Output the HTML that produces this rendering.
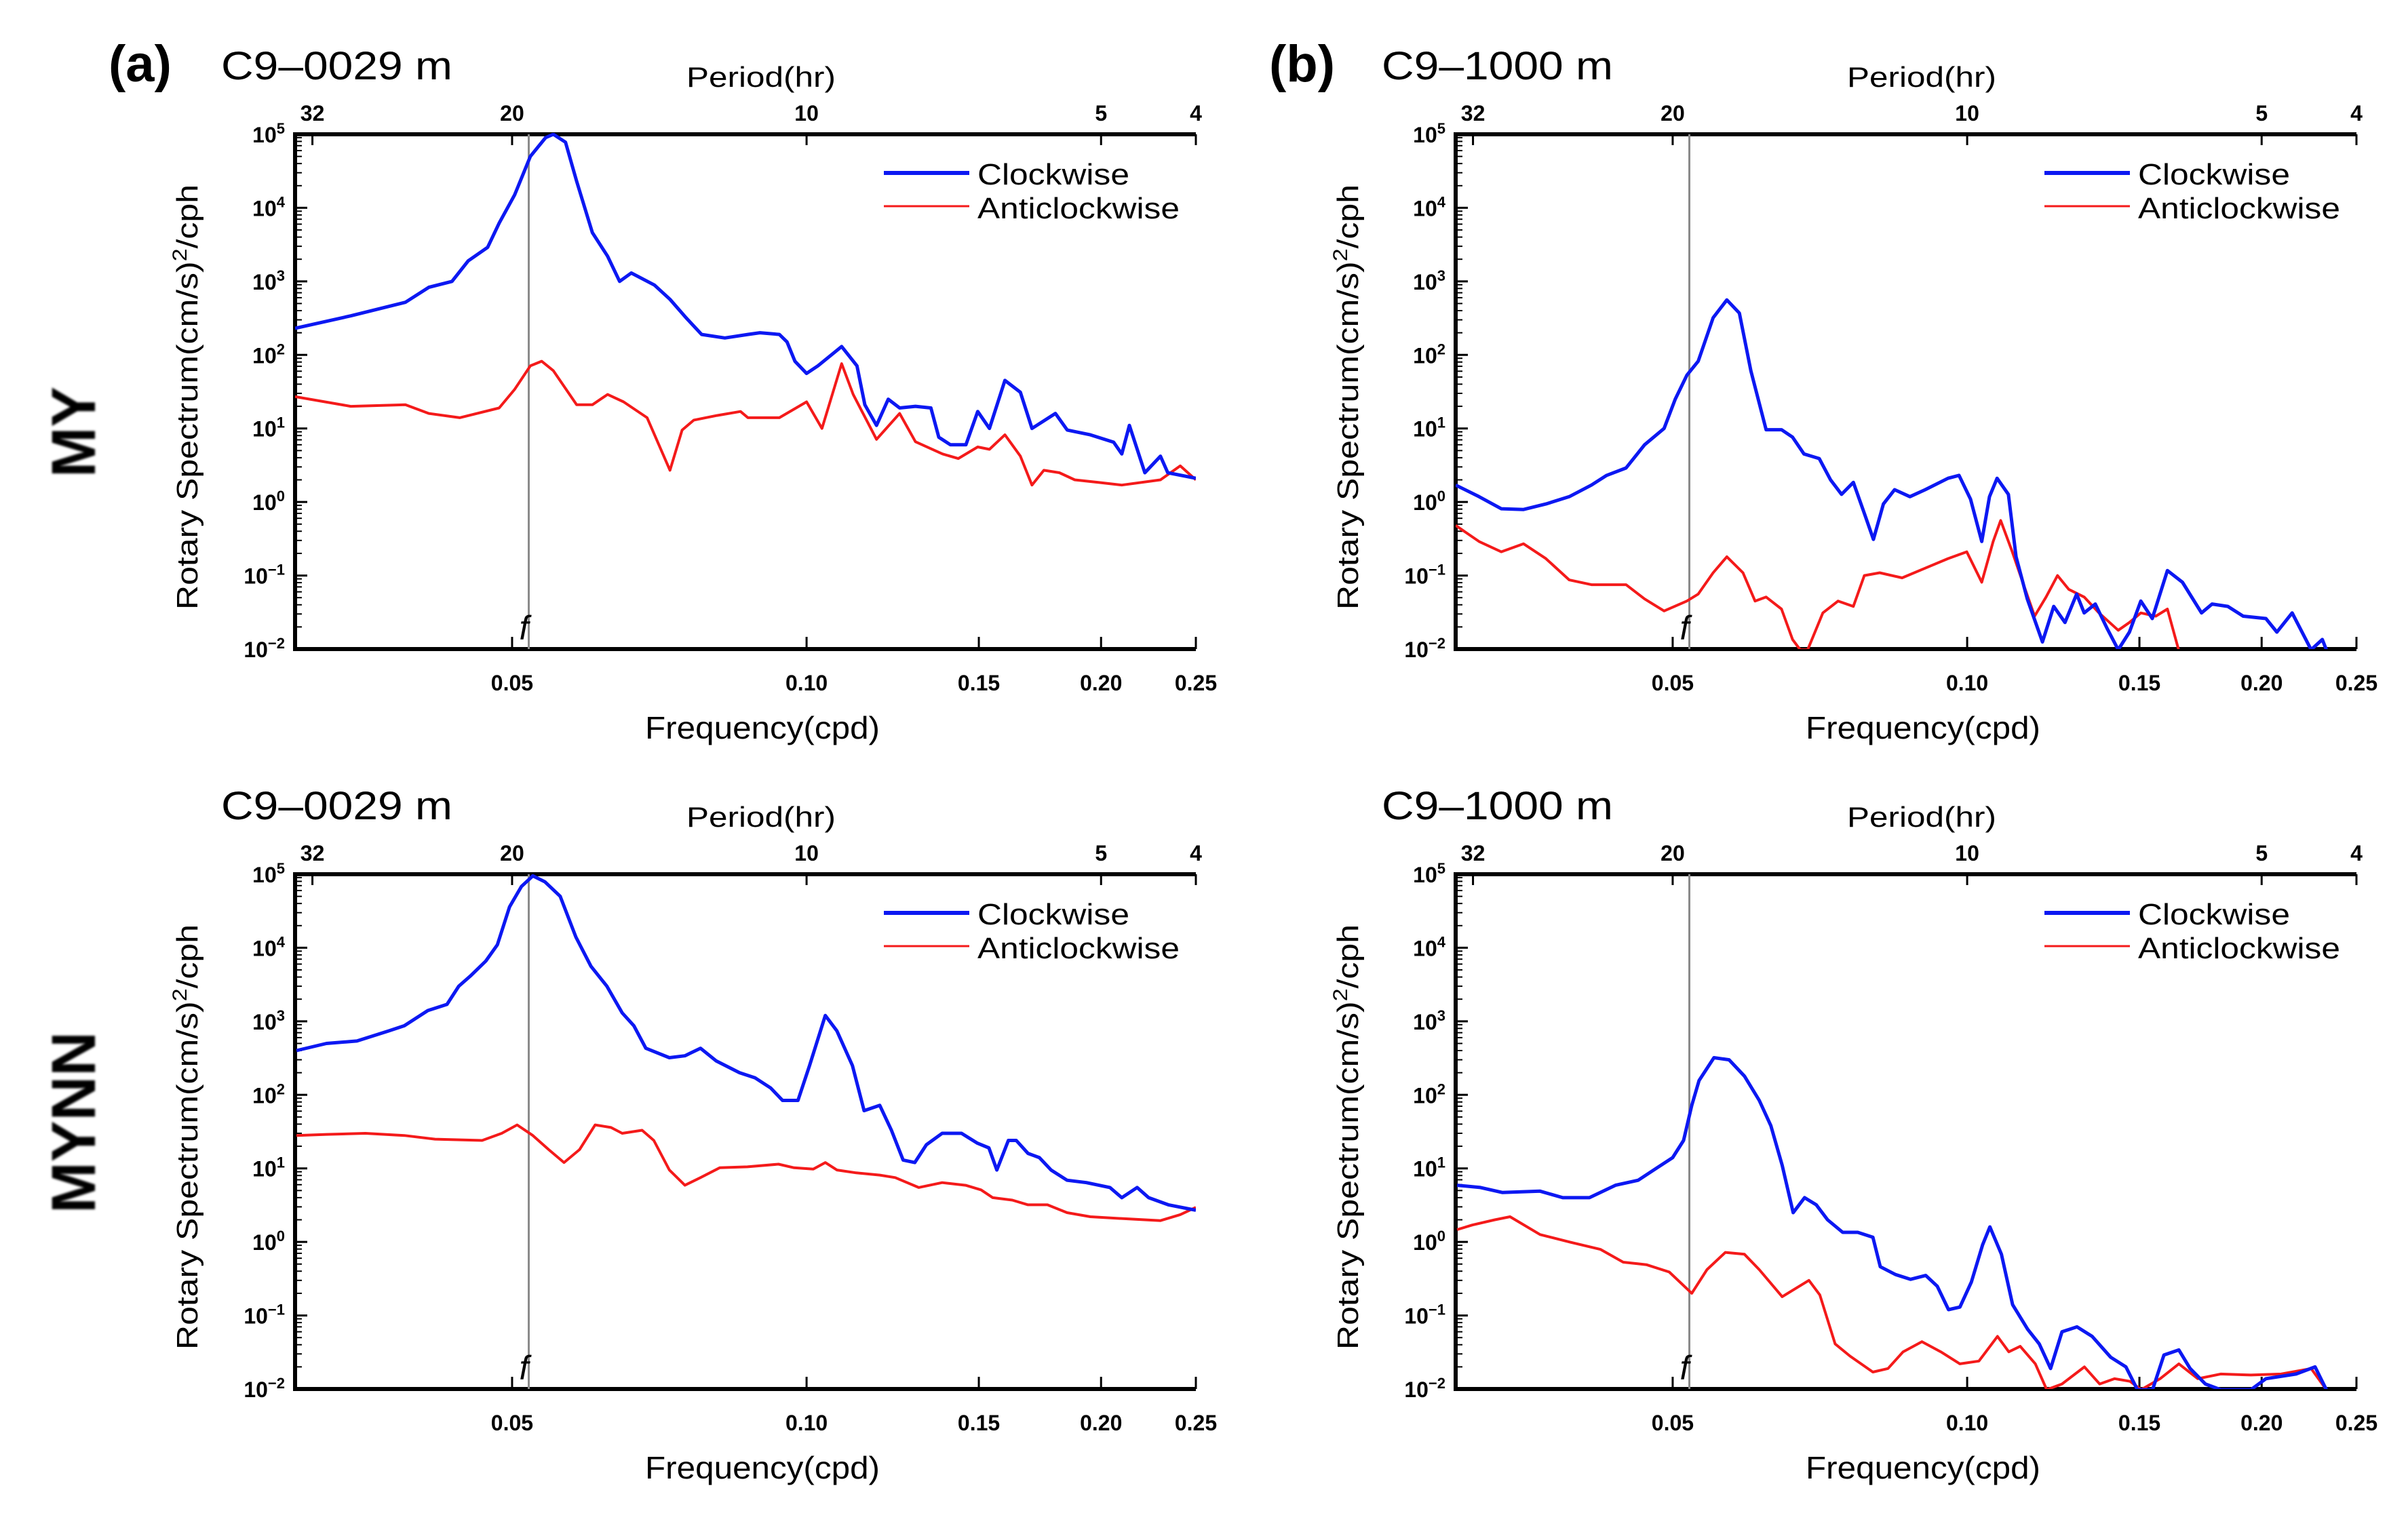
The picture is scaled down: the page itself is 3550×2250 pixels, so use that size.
<!DOCTYPE html>
<html>
<head>
<meta charset="utf-8">
<style>
html,body{margin:0;padding:0;background:#fff;}
svg{display:block;}
text{font-family:"Liberation Sans",sans-serif;fill:#000;}
</style>
</head>
<body>
<svg id="fig" width="3550" height="2250" viewBox="0 0 3550 2250" xmlns="http://www.w3.org/2000/svg">
  <defs>
    <filter id="soft" x="-20%" y="-20%" width="140%" height="140%"><feGaussianBlur stdDeviation="1.6"/></filter>
  </defs>
  <text transform="translate(140,637) rotate(-90)" text-anchor="middle" font-size="92" font-weight="bold" textLength="134" lengthAdjust="spacingAndGlyphs" filter="url(#soft)">MY</text>
  <text transform="translate(140,1655) rotate(-90)" text-anchor="middle" font-size="92" font-weight="bold" textLength="268" lengthAdjust="spacingAndGlyphs" filter="url(#soft)">MYNN</text>
</svg>
<script>
// ---- data (frequency in cph, spectrum in (cm/s)^2/cph) ----
const periodTicks = [32, 20, 10, 5, 4];
const freqTicks = [0.05, 0.10, 0.15, 0.20, 0.25];
const freqTickLabels = ["0.05", "0.10", "0.15", "0.20", "0.25"];
const decadeExps = [5, 4, 3, 2, 1, 0, -1, -2];
const inertialFreq = 0.052;
const panelTitles = ["C9\u20130029 m", "C9\u20131000 m", "C9\u20130029 m", "C9\u20131000 m"];
const panelLetters = ["(a)", "(b)", "", ""];

const aBlueF = [.0300,.0342,.0389,.0411,.0434,.0451,.0472,.0485,.0503,.0522,.0541,.0551,.0567,.0582,.0604,.0626,.0644,.0662,.0699,.0725,.0753,.0781,.0825,.0871,.0896,.0938,.0955,.0973,.1000,.1027,.1086,.1126,.1147,.1179,.1212,.1245,.1292,.134,.1365,.1403,.1455,.1496,.1538,.1595,.1654,.170,.1796,.1847,.195,.206,.210,.2138,.2217,.230,.234,.25];
const aBlueV = [230,340,520,830,1000,1900,2900,6200,15000,50000,90000,100000,78000,23000,4600,2200,1000,1300,890,570,320,190,170,190,200,190,150,82,56,71,130,71,21,11,25,19,20,19,7.6,6.0,6.0,17,10,45,31,10,16,9.5,8.2,6.5,4.5,11,2.5,4.2,2.5,2.1];
const aRedF = [.030,.0342,.0389,.0411,.0442,.0485,.0503,.0522,.0536,.0551,.0582,.0604,.0626,.065,.0687,.0725,.0746,.0767,.081,.0856,.0871,.0938,.1,.1037,.1086,.1116,.1179,.1245,.1292,.1377,.1429,.1496,.1538,.1595,.1654,.170,.1748,.1813,.188,.1987,.210,.230,.241,.25];
const aRedV = [27,20,21,16,14,19,34,71,82,61,21,21,29,23,14,2.7,9.5,13,15,17,14,14,23,10,76,29,7.1,16,6.6,4.5,3.9,5.6,5.2,8.2,4.2,1.7,2.7,2.5,2.0,1.85,1.7,2.0,3.1,2.0];

const bBlueF = [.0300,.0317,.0334,.0352,.0371,.0392,.0413,.0428,.0448,.0468,.0490,.0503,.0517,.0531,.0550,.0568,.0585,.0601,.0623,.0646,.0663,.0681,.0706,.0725,.0744,.0765,.0785,.0802,.0821,.0843,.0874,.0906,.0956,.0981,.1008,.1035,.1054,.1073,.1102,.1122,.1152,.1194,.1226,.1259,.1294,.1317,.1352,.1389,.1427,.1465,.1505,.1546,.1602,.166,.1736,.178,.1847,.1915,.202,.2073,.2149,.2247,.2307,.2329];
const bBlueV = [1.7,1.18,.81,.79,.94,1.18,1.7,2.3,2.9,6,10,25,53,82,320,560,370,61,9.6,9.6,7.6,4.5,3.9,2.0,1.27,1.85,.7,.31,.94,1.47,1.18,1.47,2.1,2.3,1.09,.29,1.18,2.1,1.27,.18,.048,.0125,.038,.023,.056,.031,.041,.0195,.0098,.017,.045,.026,.117,.081,.031,.041,.038,.028,.026,.017,.031,.0098,.0135,.0098];
const bRedF = [.0300,.0317,.0334,.0352,.0371,.0392,.0413,.0448,.0468,.0490,.0517,.0531,.0550,.0568,.059,.0607,.0623,.0646,.0663,.0675,.0687,.0712,.0738,.0765,.0785,.0814,.0858,.0906,.0956,.0999,.1035,.1063,.1082,.1112,.1142,.1172,.1204,.1237,.127,.1317,.1364,.1427,.1465,.1505,.1559,.1602,.1645];
const bRedV = [.48,.29,.21,.27,.17,.087,.075,.075,.048,.033,.045,.056,.109,.18,.109,.045,.051,.035,.0135,.0098,.0098,.031,.045,.038,.10,.109,.093,.126,.17,.21,.081,.29,.56,.21,.075,.028,.051,.10,.065,.051,.031,.018,.023,.031,.028,.035,.0098];

const cBlueF = [.0301,.0323,.0347,.0374,.0388,.0410,.0429,.0441,.0453,.0470,.0483,.0497,.0511,.0525,.0540,.0560,.0581,.0602,.0625,.0648,.0666,.0685,.0724,.0751,.0779,.0808,.0854,.0886,.0919,.0945,.0980,.1007,.1045,.1074,.1114,.1145,.1188,.1221,.1255,.129,.1326,.1376,.144,.1495,.1536,.1565,.1608,.1638,.1684,.173,.1778,.1846,.1932,.2042,.210,.2177,.2237,.2343,.25];
const cBlueV = [400,500,540,740,870,1400,1700,3000,4100,6600,11000,36000,68000,95000,79000,50000,14000,5600,3000,1300,870,430,320,340,430,290,200,170,124,84,84,250,1200,740,250,61,72,33,13,12,21,30,30,22,19,9.5,24,24,16,14,9.5,6.9,6.4,5.5,4.0,5.5,4.0,3.2,2.7];
const cRedF = [.0301,.0323,.0354,.0388,.0417,.0466,.0488,.0506,.0525,.0545,.0565,.0586,.0608,.0631,.0648,.0679,.0698,.0724,.0751,.0779,.0815,.087,.0936,.0971,.1016,.1045,.1074,.1124,.1188,.1232,.1302,.1376,.1454,.1508,.155,.1623,.1684,.1763,.1846,.195,.2137,.230,.241,.25];
const cRedV = [28,29,30,28,25,24,30,39,28,18,12,18,39,36,30,33,24,9.5,5.9,7.5,10.2,10.5,11.4,10.2,9.8,12,9.5,8.7,8.1,7.5,5.5,6.4,5.9,5.1,4.0,3.7,3.2,3.2,2.5,2.2,2.05,1.95,2.35,2.95];

const dBlueF = [.0301,.0318,.0335,.0366,.0386,.0411,.0437,.0461,.0482,.0500,.0513,.0523,.0532,.0551,.0571,.0592,.0613,.063,.0647,.0664,.0682,.0701,.072,.0746,.0773,.0801,.0815,.0845,.0875,.0907,.0932,.0957,.0983,.101,.1037,.1055,.1084,.1113,.1153,.1185,.1217,.125,.1295,.1342,.1402,.1453,.1493,.1547,.1589,.1646,.169,.1752,.1816,.195,.202,.2169,.2268,.2329];
const dBlueV = [5.9,5.5,4.7,4.9,4.0,4.0,5.9,6.9,10.2,14,24,72,156,320,300,180,84,38,11,2.5,4.0,3.2,2.0,1.35,1.35,1.16,.46,.36,.31,.35,.25,.12,.13,.285,.91,1.6,.68,.14,.065,.041,.019,.060,.070,.052,.027,.020,.0098,.0098,.029,.034,.019,.0117,.0098,.0098,.0138,.016,.020,.0098];
const dRedF = [.0301,.0312,.0329,.0341,.0366,.0393,.0422,.0445,.047,.0496,.0523,.0542,.0566,.0592,.0613,.0647,.0689,.0707,.0733,.0759,.0801,.083,.086,.0899,.094,.0983,.1028,.1074,.1103,.1133,.1174,.1206,.125,.1318,.1366,.1415,.1467,.1506,.1575,.1646,.1721,.1816,.195,.2094,.2247,.2329];
const dRedV = [1.47,1.7,2.0,2.2,1.26,.99,.79,.53,.49,.39,.2,.42,.72,.68,.42,.18,.30,.19,.041,.028,.017,.019,.032,.044,.032,.022,.024,.052,.032,.038,.022,.0098,.0117,.020,.0117,.0138,.0127,.0098,.0138,.022,.0138,.016,.0155,.016,.019,.0098];

// ---- layout ----
const NS = "http://www.w3.org/2000/svg";
const svg = document.getElementById("fig");
const PW = 1328, PH = 759;
const FMIN = 0.03, FMAX = 0.25, EMAX = 5, EMIN = -2;
const panels = [
  {ox: 435, oy: 198, blueF: aBlueF, blueV: aBlueV, redF: aRedF, redV: aRedV},
  {ox: 2146, oy: 198, blueF: bBlueF, blueV: bBlueV, redF: bRedF, redV: bRedV},
  {ox: 435, oy: 1289, blueF: cBlueF, blueV: cBlueV, redF: cRedF, redV: cRedV},
  {ox: 2146, oy: 1289, blueF: dBlueF, blueV: dBlueV, redF: dRedF, redV: dRedV}
];
function xScale(f) { return PW * Math.log(f / FMIN) / Math.log(FMAX / FMIN); }
function yScale(v) { return PH * (EMAX - Math.log10(v)) / (EMAX - EMIN); }
function el(tag, attrs, parent) {
  const e = document.createElementNS(NS, tag);
  for (const k in attrs) e.setAttribute(k, attrs[k]);
  parent.appendChild(e);
  return e;
}

panels.forEach((p, i) => {
  const g = el("g", {transform: "translate(" + p.ox + "," + p.oy + ")"}, svg);
  
  

  const cp = el("clipPath", {id: "clip" + i}, g);
  el("rect", {x: 0, y: -2, width: PW, height: PH + 2}, cp);

  if (panelLetters[i]) {
    const lt = el("text", {x: -275, y: -78, "font-size": 76, "font-weight": "bold"}, g);
    lt.textContent = panelLetters[i];
    
    
  }
  const tt = el("text", {x: -109, y: -81, "font-size": 58, textLength: 341, lengthAdjust: "spacingAndGlyphs"}, g);
  tt.textContent = panelTitles[i];
  
  

  const pt = el("text", {x: 687, y: -70, "font-size": 42, "text-anchor": "middle", textLength: 220, lengthAdjust: "spacingAndGlyphs"}, g);
  pt.textContent = "Period(hr)";
  
  

  const topAxis = el("line", {x1: 0, y1: 0, x2: PW, y2: 0, stroke: "#000", "stroke-width": 6}, g);
  
  
  periodTicks.forEach(P => {
    const x = xScale(1 / P);
    el("line", {x1: x, y1: 0, x2: x, y2: 16, stroke: "#000", "stroke-width": 3}, g);
    const t = el("text", {x: x, y: -20, "font-size": 32, "font-weight": "bold", "text-anchor": "middle"}, g);
    t.textContent = String(P);
    
    
  });

  const botAxis = el("line", {x1: 0, y1: PH, x2: PW, y2: PH, stroke: "#000", "stroke-width": 6}, g);
  
  
  freqTicks.forEach((f, k) => {
    const x = xScale(f);
    el("line", {x1: x, y1: PH, x2: x, y2: PH - 18, stroke: "#000", "stroke-width": 3}, g);
    const t = el("text", {x: x, y: PH + 61, "font-size": 32, "font-weight": "bold", "text-anchor": "middle"}, g);
    t.textContent = freqTickLabels[k];
    
    
  });
  const xt = el("text", {x: 689, y: PH + 132, "font-size": 46, "text-anchor": "middle", textLength: 346, lengthAdjust: "spacingAndGlyphs"}, g);
  xt.textContent = "Frequency(cpd)";
  
  

  const leftAxis = el("line", {x1: 0, y1: -3, x2: 0, y2: PH + 3, stroke: "#000", "stroke-width": 6}, g);
  
  
  decadeExps.forEach(e => {
    const y = yScale(Math.pow(10, e));
    el("line", {x1: 0, y1: y, x2: 18, y2: y, stroke: "#000", "stroke-width": 3}, g);
    if (e > EMIN) {
      for (let m = 2; m <= 9; m++) {
        const ym = yScale(m * Math.pow(10, e - 1));
        el("line", {x1: 0, y1: ym, x2: 10, y2: ym, stroke: "#000", "stroke-width": 2}, g);
      }
    }
    const t = el("text", {x: -15, y: y + 12, "font-size": 32, "font-weight": "bold", "text-anchor": "end"}, g);
    t.textContent = "10";
    const s = el("tspan", {dy: -13, "font-size": 22}, t);
    s.textContent = e < 0 ? "\u2212" + (-e) : String(e);
    
    
  });
  const yt = el("text", {transform: "translate(-144," + (PH / 2 + 8) + ") rotate(-90)", "font-size": 44, "text-anchor": "middle", textLength: 627, lengthAdjust: "spacingAndGlyphs"}, g);
  yt.textContent = "Rotary Spectrum(cm/s)";
  const sup = el("tspan", {dy: -16, "font-size": 30}, yt);
  sup.textContent = "2";
  const rest = el("tspan", {dy: 16}, yt);
  rest.textContent = "/cph";
  
  

  const fx = xScale(inertialFreq);
  const fl = el("line", {x1: fx, y1: 0, x2: fx, y2: PH, stroke: "#8a8a8a", "stroke-width": 3}, g);
  
  
  const ft = el("text", {x: fx - 14, y: PH - 14, "font-size": 50, "font-style": "italic", "font-family": "Liberation Serif, serif"}, g);
  ft.textContent = "f";
  
  

  function series(F, V, color, w, name) {
    const n = Math.min(F.length, V.length);
    const pts = [];
    for (let k = 0; k < n; k++) pts.push(xScale(F[k]).toFixed(1) + "," + yScale(V[k]).toFixed(1));
    const pl = el("polyline", {points: pts.join(" "), fill: "none", stroke: color, "stroke-width": w, "stroke-linejoin": "round", "clip-path": "url(#clip" + i + ")"}, g);
    
    
  }
  series(p.redF, p.redV, "#f41a1a", 4, "anticlockwise-line");
  series(p.blueF, p.blueV, "#0c18f2", 5, "clockwise-line");

  const lg = el("g", {}, g);
  
  
  el("line", {x1: 868, y1: 57, x2: 994, y2: 57, stroke: "#0c18f2", "stroke-width": 6}, lg);
  const l1 = el("text", {x: 1006, y: 74, "font-size": 44, textLength: 224, lengthAdjust: "spacingAndGlyphs"}, lg);
  l1.textContent = "Clockwise";
  
  
  el("line", {x1: 868, y1: 106, x2: 994, y2: 106, stroke: "#f41a1a", "stroke-width": 3}, lg);
  const l2 = el("text", {x: 1006, y: 124, "font-size": 44, textLength: 298, lengthAdjust: "spacingAndGlyphs"}, lg);
  l2.textContent = "Anticlockwise";
  
  
});
</script>
</body>
</html>
